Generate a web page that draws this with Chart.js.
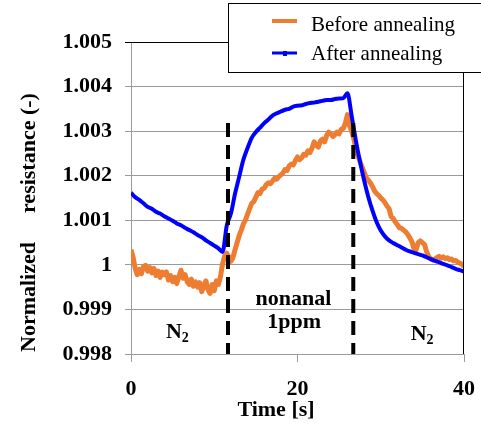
<!DOCTYPE html>
<html>
<head>
<meta charset="utf-8">
<script src="https://cdn.jsdelivr.net/npm/chart.js@4/dist/chart.umd.min.js"></script>
<style>
	html, body { margin: 0; padding: 0; background: #fff; }
	#wrap { position: relative; width: 481px; height: 426px; }
</style>
</head>
<body>
<div id="wrap"><canvas id="chart-resistance"></canvas></div>
<script>
// Data
// After annealing is sampled every 0.5 s
const TIME = [
	0, 0.5, 1, 1.5, 2, 2.5, 3, 3.5, 4, 4.5, 5, 5.5, 6, 6.5, 7, 7.5, 8, 8.5, 9, 9.5,
	10, 10.5, 11, 11.5, 12, 12.5, 13, 13.5, 14, 14.5, 15, 15.5, 16, 16.5, 17, 17.5, 18, 18.5, 19, 19.5,
	20, 20.5, 21, 21.5, 22, 22.5, 23, 23.5, 24, 24.5, 25, 25.5, 26, 26.5, 27, 27.5, 28, 28.5, 29, 29.5,
	30, 30.5, 31, 31.5, 32, 32.5, 33, 33.5, 34, 34.5, 35, 35.5, 36, 36.5, 37, 37.5, 38, 38.5, 39, 39.5, 40,
];

const AFTER_ANNEALING = [
	1.00162, 1.00152, 1.00146, 1.00138, 1.0013, 1.00126, 1.00119, 1.00115, 1.00109, 1.00104,
	1.00099, 1.00093, 1.00089, 1.00083, 1.00078, 1.00073, 1.00067, 1.00062, 1.00055, 1.00049,
	1.00043, 1.00037, 1.00029, 1.00088, 1.00115, 1.0016, 1.00198, 1.00236, 1.00262, 1.00285,
	1.00298, 1.00308, 1.00318, 1.00326, 1.00335, 1.0034, 1.00344, 1.00348, 1.0035, 1.00355,
	1.00357, 1.00358, 1.00361, 1.00363, 1.00364, 1.00366, 1.00368, 1.0037, 1.0037, 1.00372,
	1.00373, 1.00374, 1.00385, 1.00335, 1.0028, 1.00232, 1.0019, 1.00153, 1.00122, 1.00096,
	1.00077, 1.00064, 1.00055, 1.00049, 1.00044, 1.00039, 1.00034, 1.0003, 1.00027, 1.00024,
	1.00021, 1.00017, 1.00013, 1.00009, 1.00006, 1.00002, 0.99999, 0.99995, 0.99991, 0.99988, 0.99985,
];

// Before annealing is noisier, sampled every 0.25 s
const TIME_FINE = [
	0, 0.25, 0.5, 0.75, 1, 1.25, 1.5, 1.75, 2, 2.25, 2.5, 2.75, 3, 3.25, 3.5, 3.75,
	4, 4.25, 4.5, 4.75, 5, 5.25, 5.5, 5.75, 6, 6.25, 6.5, 6.75, 7, 7.25, 7.5, 7.75,
	8, 8.25, 8.5, 8.75, 9, 9.25, 9.5, 9.75, 10, 10.25, 10.5, 10.75, 11, 11.25, 11.5, 11.75,
	12, 12.25, 12.5, 12.75, 13, 13.25, 13.5, 13.75, 14, 14.25, 14.5, 14.75, 15, 15.25, 15.5, 15.75,
	16, 16.25, 16.5, 16.75, 17, 17.25, 17.5, 17.75, 18, 18.25, 18.5, 18.75, 19, 19.25, 19.5, 19.75,
	20, 20.25, 20.5, 20.75, 21, 21.25, 21.5, 21.75, 22, 22.25, 22.5, 22.75, 23, 23.25, 23.5, 23.75,
	24, 24.25, 24.5, 24.75, 25, 25.25, 25.5, 25.75, 26, 26.25, 26.5, 26.75, 27, 27.25, 27.5, 27.75,
	28, 28.25, 28.5, 28.75, 29, 29.25, 29.5, 29.75, 30, 30.25, 30.5, 30.75, 31, 31.25, 31.5, 31.75,
	32, 32.25, 32.5, 32.75, 33, 33.25, 33.5, 33.75, 34, 34.25, 34.5, 34.75, 35, 35.25, 35.5, 35.75,
	36, 36.25, 36.5, 36.75, 37, 37.25, 37.5, 37.75, 38, 38.25, 38.5, 38.75, 39, 39.25, 39.5, 39.75,
	40,
];

const BEFORE_ANNEALING = [
	1.00034, 1.00018, 0.99992, 0.99978, 0.9999, 0.9998, 0.99996, 0.99999,
	0.99986, 0.99994, 0.99982, 0.99992, 0.99976, 0.99986, 0.99972, 0.99984,
	0.99978, 0.99984, 0.99966, 0.99976, 0.99962, 0.99972, 0.99958, 0.99974,
	0.99988, 0.9997, 0.99978, 0.99962, 0.99956, 0.99968, 0.99952, 0.99962,
	0.9995, 0.9996, 0.9994, 0.99954, 0.99964, 0.99944, 0.99936, 0.99956,
	0.99942, 0.99964, 0.99956, 0.99974, 1.00002, 1.0002, 1.00026, 1.00018,
	1.00008, 1.00016, 1.00034, 1.0005, 1.00066, 1.00078, 1.00092, 1.001,
	1.00114, 1.00126, 1.00138, 1.00142, 1.00152, 1.00162, 1.0016, 1.0017,
	1.00172, 1.0018, 1.00184, 1.00182, 1.00188, 1.00194, 1.00192, 1.00198,
	1.00202, 1.00206, 1.00214, 1.00212, 1.00222, 1.00226, 1.00224, 1.00234,
	1.00242, 1.00236, 1.0024, 1.00248, 1.00246, 1.00256, 1.00252, 1.00262,
	1.00276, 1.00268, 1.00264, 1.00278, 1.00282, 1.00276, 1.0029, 1.00298,
	1.00294, 1.00288, 1.00292, 1.00298, 1.00294, 1.00304, 1.00306, 1.00318,
	1.00337, 1.00312, 1.003, 1.00284, 1.00262, 1.00246, 1.00232, 1.0022,
	1.00208, 1.00196, 1.0019, 1.00184, 1.00176, 1.00166, 1.0016, 1.00156,
	1.0015, 1.00146, 1.0014, 1.00132, 1.00126, 1.00108, 1.00104, 1.00096,
	1.0009, 1.00083, 1.00082, 1.00078, 1.00074, 1.00068, 1.0006, 1.00052,
	1.00036, 1.00034, 1.0005, 1.00054, 1.0005, 1.00046, 1.0003, 1.00019,
	1.00014, 1.00011, 1.00013, 1.00016, 1.00019, 1.00015, 1.00018, 1.00014,
	1.00016, 1.00012, 1.00013, 1.00009, 1.0001, 1.00006, 1.00004, 1.00001,
	0.99996,
];

// gas switching marks
const SWITCH_TIMES = [11.65, 26.7];
const SWITCH_TOP = 1.00318;

const X_TICKS = [0, 20, 40];
const Y_MIN = 0.998;
const Y_MAX = 1.005;

const LEGEND_LABELS = ["Before annealing", "After annealing"];
const X_TITLE = "Time [s]";
const Y_TITLE = ["Normalized", "resistance (-)"];

const COLORS = {
	orange: "#ED7D31",
	blue: "#0000FF",
	grid: "#9a9a9a",
	black: "#000000",
};

const SERIF = "'Liberation Serif', 'Times New Roman', serif";

const toPoints = (times, values) => values.map((v, i) => ({ x: times[i], y: v }));

const switchData = [];
SWITCH_TIMES.forEach((t, i) => {
	if (i > 0) switchData.push({ x: t, y: null });
	switchData.push({ x: t, y: SWITCH_TOP });
	switchData.push({ x: t, y: Y_MIN });
});

// Extra drawing: frame, legend, axis titles, region labels
const decorations = {
	id: "decorations",
	afterDatasetsDraw(chart) {
		const { ctx, chartArea: a, scales } = chart;
		ctx.save();

		// plot frame (top + right)
		ctx.strokeStyle = COLORS.black;
		ctx.lineWidth = 1;
		ctx.beginPath();
		ctx.moveTo(a.left, a.top + 0.5);
		ctx.lineTo(a.right, a.top + 0.5);
		ctx.moveTo(a.right - 0.5, a.top);
		ctx.lineTo(a.right - 0.5, a.bottom);
		ctx.stroke();

		// region labels
		ctx.fillStyle = COLORS.black;
		ctx.textBaseline = "alphabetic";
		const n2 = (x, y) => {
			ctx.font = "bold 22px " + SERIF;
			ctx.textAlign = "left";
			ctx.fillText("N", x, y);
			const w = ctx.measureText("N").width;
			ctx.font = "bold 14px " + SERIF;
			ctx.fillText("2", x + w, y + 4);
		};
		n2(scales.x.getPixelForValue(4.2), 338);
		n2(scales.x.getPixelForValue(33.6), 340);

		ctx.font = "bold 22px " + SERIF;
		ctx.textAlign = "center";
		ctx.fillText("nonanal", scales.x.getPixelForValue(19.5), 305);
		ctx.fillText("1ppm", scales.x.getPixelForValue(19.6), 328);

		// x title
		ctx.fillText(X_TITLE, 276, 416);

		// y title
		ctx.save();
		ctx.translate(35, 0);
		ctx.rotate(-Math.PI / 2);
		ctx.textAlign = "left";
		ctx.fillText(Y_TITLE[0], -352, 0);
		ctx.fillText(Y_TITLE[1], -213, 0);
		ctx.restore();

		// legend
		ctx.fillStyle = "#fff";
		ctx.fillRect(228, 3, 260, 69);
		ctx.strokeStyle = COLORS.black;
		ctx.lineWidth = 1;
		ctx.strokeRect(228.5, 3.5, 260, 69);

		ctx.lineWidth = 4;
		ctx.strokeStyle = COLORS.orange;
		ctx.beginPath();
		ctx.moveTo(272, 21);
		ctx.lineTo(297, 21);
		ctx.stroke();

		ctx.lineWidth = 3;
		ctx.strokeStyle = COLORS.blue;
		ctx.beginPath();
		ctx.moveTo(272, 53);
		ctx.lineTo(297, 53);
		ctx.stroke();
		ctx.fillStyle = COLORS.blue;
		ctx.fillRect(283, 51, 4, 5);

		ctx.fillStyle = COLORS.black;
		ctx.font = "21px " + SERIF;
		ctx.textAlign = "left";
		ctx.fillText(LEGEND_LABELS[0], 311, 31);
		ctx.fillText(LEGEND_LABELS[1], 311, 60);

		ctx.restore();
	},
};

const CHART_CONFIG = {
	type: "line",
	data: {
		datasets: [
			{
				label: LEGEND_LABELS[1],
				data: toPoints(TIME, AFTER_ANNEALING),
				borderColor: COLORS.blue,
				backgroundColor: COLORS.blue,
				borderWidth: 4,
				cubicInterpolationMode: "monotone",
				pointRadius: 0,
				order: 1,
			},
			{
				label: LEGEND_LABELS[0],
				data: toPoints(TIME_FINE, BEFORE_ANNEALING),
				borderColor: COLORS.orange,
				backgroundColor: COLORS.orange,
				borderWidth: 5,
				borderJoinStyle: "round",
				tension: 0,
				pointRadius: 0,
				order: 2,
			},
			{
				label: "switch",
				data: switchData,
				borderColor: COLORS.black,
				borderWidth: 4,
				borderDash: [14, 8],
				borderCapStyle: "butt",
				spanGaps: false,
				pointRadius: 0,
				order: 0,
			},
		],
	},
	options: {
		responsive: true,
		maintainAspectRatio: false,
		animation: false,
		layout: {
			padding: { left: 0, top: 42, right: 17, bottom: 0 },
		},
		scales: {
			x: {
				type: "linear",
				min: 0,
				max: 40,
				afterFit: (scale) => {
					scale.height = 72;
					// keep the plot edge fixed, labels may overhang
					scale.paddingLeft = 0;
					scale.paddingRight = 0;
				},
				afterBuildTicks: (scale) => {
					scale.ticks = X_TICKS.map((v) => ({ value: v }));
				},
				border: { display: true, color: COLORS.grid, width: 1 },
				grid: {
					drawOnChartArea: false,
					drawTicks: true,
					tickLength: 8,
					color: COLORS.grid,
				},
				ticks: {
					color: COLORS.black,
					font: { family: SERIF, size: 22, weight: "bold" },
					padding: 14,
					maxRotation: 0,
				},
			},
			y: {
				min: Y_MIN,
				max: Y_MAX,
				afterFit: (scale) => {
					scale.width = 131;
				},
				border: { display: true, color: COLORS.grid, width: 1 },
				grid: {
					color: (c) => (c.tick && Math.abs(c.tick.value - Y_MAX) < 1e-7 ? COLORS.black : COLORS.grid),
					lineWidth: 1,
					drawTicks: true,
					tickLength: 6,
				},
				ticks: {
					stepSize: 0.001,
					color: COLORS.black,
					font: { family: SERIF, size: 22, weight: "bold" },
					padding: 13,
					callback: (value) => String(parseFloat(Number(value).toFixed(3))),
				},
			},
		},
		plugins: {
			legend: { display: false },
			tooltip: { enabled: false },
		},
	},
	plugins: [decorations],
};

new Chart(document.getElementById("chart-resistance"), CHART_CONFIG);
</script>
</body>
</html>
